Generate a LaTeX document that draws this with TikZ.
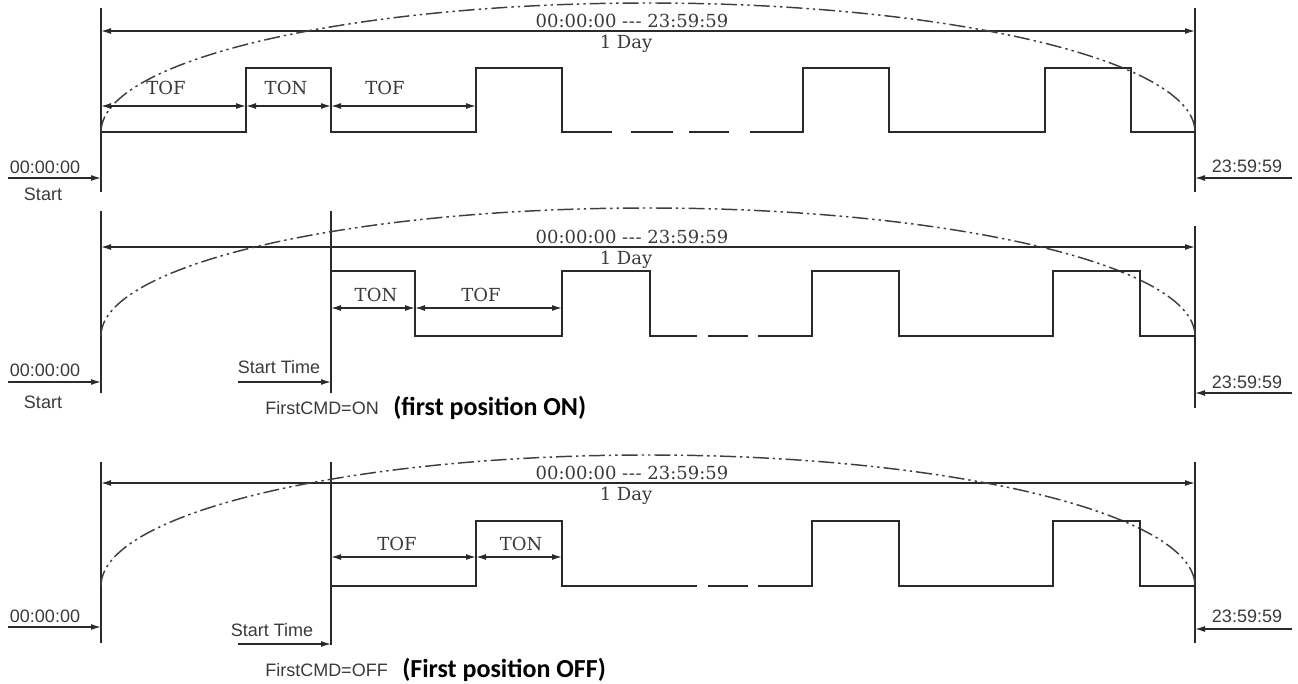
\documentclass[tikz,border=0pt]{standalone}
\usepackage{fontspec}
\setmainfont{DejaVu Serif}
\setsansfont{Liberation Sans}
\newfontfamily\boldfam{Carlito}
\usetikzlibrary{arrows.meta}
\definecolor{ink}{HTML}{2A2A2A}
\definecolor{txt}{HTML}{3A3A3A}
\newcommand{\tripdash}{\mbox{-}\kern0.5pt\mbox{-}\kern0.5pt\mbox{-}}
\tikzset{
  ln/.style={draw=ink, line width=1.1pt},
  sig/.style={draw=ink, line width=1.2pt, line join=miter},
  dimarr/.style={draw=ink, line width=1.0pt, {Latex[length=7.5pt,width=4.5pt]}-{Latex[length=7.5pt,width=4.5pt]}},
  onearr/.style={draw=ink, line width=1.0pt, -{Latex[length=7.5pt,width=4.5pt]}},
  dayarc/.style={draw=ink!90, line width=1.1pt, dash pattern=on 12pt off 3pt on 1.8pt off 3pt on 1.8pt off 3pt},
  serif/.style={text=txt, font=\fontsize{13.5}{16}\selectfont, inner sep=0pt},
  sans/.style={text=txt, font=\sffamily\fontsize{13.5}{15}\selectfont, inner sep=0pt},
  boldtxt/.style={text=black, font=\boldfam\bfseries\fontsize{19.5}{22}\selectfont, inner sep=0pt, anchor=west},
}
\begin{document}
\begin{tikzpicture}[x=0.75pt,y=-0.75pt]
\useasboundingbox (0,0) rectangle (1298,684);
% ================= Panel 1 =================
\coordinate (L1t) at (101,8);   \coordinate (L1b) at (101,192);
\coordinate (R1t) at (1195,8);  \coordinate (R1b) at (1195,192);
\draw[ln] (L1t) -- (L1b);
\draw[ln] (R1t) -- (R1b);
\coordinate (D1a) at (101,31); \coordinate (D1b) at (1195,31);
\draw[dimarr] (D1a) -- (D1b);
\node[serif] (D1txt) at (632,21) {00:00:00 \tripdash{} 23:59:59};
\node[serif] (D1day) at (626,44) {1 Day};
\coordinate (E1a) at (101,132);
\draw[dayarc] (E1a) arc[start angle=180, end angle=0, x radius=410.25pt, y radius=96.75pt];
\draw[sig] (101,132) -- (246,132) -- (246,68) -- (331,68) -- (331,132) -- (476,132) -- (476,68) -- (562,68) -- (562,132) -- (612,132);
\draw[sig] (631,132) -- (673,132);
\draw[sig] (689,132) -- (729,132);
\draw[sig] (750,132) -- (803,132) -- (803,68) -- (889,68) -- (889,132) -- (1045,132) -- (1045,68) -- (1131,68) -- (1131,132) -- (1195,132);
\coordinate (A1a) at (101,106); \coordinate (A1b) at (246,106);
\coordinate (A1c) at (331,106); \coordinate (A1d) at (476,106);
\draw[dimarr] (A1a) -- (A1b);
\draw[dimarr] (A1b) -- (A1c);
\draw[dimarr] (A1c) -- (A1d);
\node[serif] (T1a) at (166,88) {TOF};
\node[serif] (T1b) at (286,88) {TON};
\node[serif] (T1c) at (385,88) {TOF};
\node[sans] (S1txt) at (45,167) {00:00:00};
\coordinate (S1a) at (8,178); \coordinate (S1b) at (101,178);
\draw[onearr] (S1a) -- (S1b);
\node[sans] (S1st) at (43,194) {Start};
\node[sans] (E1txt) at (1247,166) {23:59:59};
\coordinate (E1r) at (1292,178); \coordinate (E1l) at (1195,178);
\draw[onearr] (E1r) -- (E1l);
% ================= Panel 2 =================
\coordinate (L2t) at (101,211);  \coordinate (L2b) at (101,393);
\coordinate (M2t) at (331,211);  \coordinate (M2b) at (331,393);
\coordinate (R2t) at (1195,226); \coordinate (R2b) at (1195,408);
\draw[ln] (L2t) -- (L2b);
\draw[ln] (M2t) -- (M2b);
\draw[ln] (R2t) -- (R2b);
\coordinate (D2a) at (101,247); \coordinate (D2b) at (1195,247);
\draw[dimarr] (D2a) -- (D2b);
\node[serif] (D2txt) at (632,237) {00:00:00 \tripdash{} 23:59:59};
\node[serif] (D2day) at (626,260) {1 Day};
\coordinate (E2a) at (101,336);
\draw[dayarc] (E2a) arc[start angle=180, end angle=0, x radius=410.25pt, y radius=96pt];
\draw[sig] (331,271) -- (415,271) -- (415,336) -- (562,336) -- (562,271) -- (650,271) -- (650,336) -- (697,336);
\draw[sig] (708,336) -- (748,336);
\draw[sig] (758,336) -- (812,336) -- (812,271) -- (899,271) -- (899,336) -- (1053,336) -- (1053,271) -- (1140,271) -- (1140,336) -- (1195,336);
\coordinate (A2a) at (331,308); \coordinate (A2b) at (415,308); \coordinate (A2c) at (562,308);
\draw[dimarr] (A2a) -- (A2b);
\draw[dimarr] (A2b) -- (A2c);
\node[serif] (T2a) at (376,295) {TON};
\node[serif] (T2b) at (481,295) {TOF};
\node[sans] (S2txt) at (45,370) {00:00:00};
\coordinate (S2a) at (8,382); \coordinate (S2b) at (101,382);
\draw[onearr] (S2a) -- (S2b);
\node[sans] (S2st) at (43,402) {Start};
\node[sans] (ST2txt) at (279,367) {Start Time};
\coordinate (ST2a) at (238,382); \coordinate (ST2b) at (331,382);
\draw[onearr] (ST2a) -- (ST2b);
\node[sans, anchor=west] (F2a) at (265,408) {FirstCMD=ON};
\node[boldtxt] (F2b) at (393,408) {(first position ON)};
\node[sans] (E2txt) at (1247,382) {23:59:59};
\coordinate (E2r) at (1292,393); \coordinate (E2l) at (1195,393);
\draw[onearr] (E2r) -- (E2l);
% ================= Panel 3 =================
\coordinate (L3t) at (101,462);  \coordinate (L3b) at (101,643);
\coordinate (M3t) at (331,462);  \coordinate (M3b) at (331,645);
\coordinate (R3t) at (1195,462); \coordinate (R3b) at (1195,643);
\draw[ln] (L3t) -- (L3b);
\draw[ln] (M3t) -- (M3b);
\draw[ln] (R3t) -- (R3b);
\coordinate (D3a) at (101,483); \coordinate (D3b) at (1195,483);
\draw[dimarr] (D3a) -- (D3b);
\node[serif] (D3txt) at (632,473) {00:00:00 \tripdash{} 23:59:59};
\node[serif] (D3day) at (626,496) {1 Day};
\coordinate (E3a) at (101,586);
\draw[dayarc] (E3a) arc[start angle=180, end angle=0, x radius=410.25pt, y radius=98.25pt];
\draw[sig] (331,586) -- (476,586) -- (476,521) -- (562,521) -- (562,586) -- (697,586);
\draw[sig] (708,586) -- (748,586);
\draw[sig] (758,586) -- (812,586) -- (812,521) -- (899,521) -- (899,586) -- (1053,586) -- (1053,521) -- (1140,521) -- (1140,586) -- (1195,586);
\coordinate (A3a) at (331,557); \coordinate (A3b) at (476,557); \coordinate (A3c) at (562,557);
\draw[dimarr] (A3a) -- (A3b);
\draw[dimarr] (A3b) -- (A3c);
\node[serif] (T3a) at (397,544) {TOF};
\node[serif] (T3b) at (521,544) {TON};
\node[sans] (S3txt) at (45,616) {00:00:00};
\coordinate (S3a) at (8,627); \coordinate (S3b) at (101,627);
\draw[onearr] (S3a) -- (S3b);
\node[sans] (ST3txt) at (272,630) {Start Time};
\coordinate (ST3a) at (238,644); \coordinate (ST3b) at (331,644);
\draw[onearr] (ST3a) -- (ST3b);
\node[sans, anchor=west] (F3a) at (265,670) {FirstCMD=OFF};
\node[boldtxt] (F3b) at (402,670) {(First position OFF)};
\node[sans] (E3txt) at (1247,616) {23:59:59};
\coordinate (E3r) at (1292,629); \coordinate (E3l) at (1195,629);
\draw[onearr] (E3r) -- (E3l);
\end{tikzpicture}
\end{document}
